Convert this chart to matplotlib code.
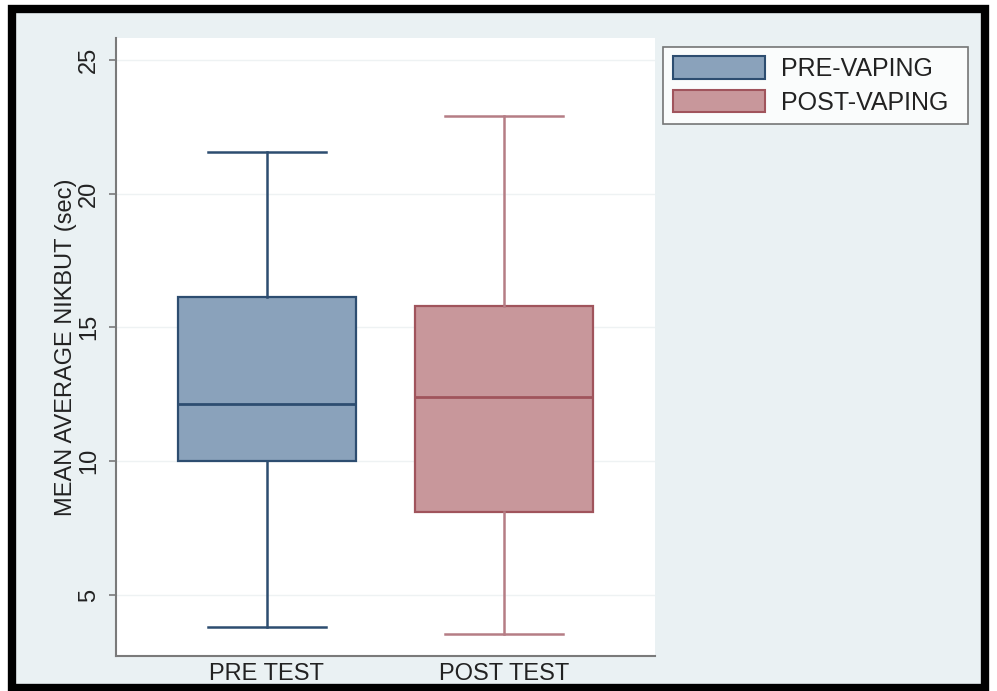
import matplotlib.pyplot as plt
from matplotlib.patches import Patch, Rectangle

plt.rcParams['font.family'] = ['Liberation Sans', 'DejaVu Sans']

groups = ["PRE TEST", "POST TEST"]
series = ["PRE-VAPING", "POST-VAPING"]
whislo = [3.8, 3.55]
q1 = [10.0, 8.1]
med = [12.15, 12.4]
q3 = [16.15, 15.8]
whishi = [21.55, 22.9]

fills = ["#8aa2bb", "#c8979b"]
edges = ["#2d4d70", "#a0545c"]
whisk = ["#2d4d70", "#b57d85"]
bg = "#eaf1f3"
txt = "#222222"

fig = plt.figure(figsize=(9.97, 6.91), dpi=100, facecolor="white")
fig.add_artist(Rectangle((0.0125, 0.0045), 0.975, 0.9825, transform=fig.transFigure,
                         facecolor=bg, edgecolor="black", lw=6, zorder=-1))

ax = fig.add_axes([0.1164, 0.0506, 0.5406, 0.894])
ax.set_facecolor("white")

stats = []
for i in range(len(groups)):
    stats.append(dict(label=groups[i], whislo=whislo[i], q1=q1[i], med=med[i],
                      q3=q3[i], whishi=whishi[i], fliers=[]))

bp = ax.bxp(stats, positions=[1, 2], widths=0.75, capwidths=0.5,
            patch_artist=True, showfliers=False)
for i in range(2):
    bp['boxes'][i].set(facecolor=fills[i], edgecolor=edges[i], lw=1.6)
    bp['medians'][i].set(color=edges[i], lw=2)
    for j in (2 * i, 2 * i + 1):
        bp['whiskers'][j].set(color=whisk[i], lw=1.8)
        bp['caps'][j].set(color=whisk[i], lw=1.8)

ax.set_xlim(0.364, 2.636)
ax.set_ylim(2.72, 25.8)
ax.set_yticks([5, 10, 15, 20, 25])
ax.yaxis.grid(True, color="#eef2f3", lw=1)
ax.set_axisbelow(True)

for s in ("top", "right"):
    ax.spines[s].set_visible(False)
for s in ("left", "bottom"):
    ax.spines[s].set_color("#7a7a7a")
    ax.spines[s].set_linewidth(1.5)

ax.tick_params(axis='y', length=5, width=1.2, color="#7a7a7a", pad=6.5,
               labelsize=17, labelcolor=txt, labelrotation=90)
for lab in ax.get_yticklabels():
    lab.set_va("center")
ax.tick_params(axis='x', length=0, pad=5, labelsize=17, labelcolor=txt)
ax.set_ylabel("MEAN AVERAGE NIKBUT (sec)", fontsize=17, color=txt, labelpad=1)

handles = [Patch(facecolor=fills[i], edgecolor=edges[i], lw=1.5, label=series[i])
           for i in range(2)]
leg = fig.legend(handles=handles, loc="upper left",
                 bbox_to_anchor=(0.665, 0.822, 0.306, 0.11), mode="expand",
                 fontsize=18, frameon=True, fancybox=False, edgecolor="#555555",
                 handlelength=3.7, handleheight=1.0, labelspacing=0.35,
                 handletextpad=0.64, borderpad=0.38, borderaxespad=0)
leg.get_frame().set_linewidth(1.2)
for t in leg.get_texts():
    t.set_color(txt)

fig.savefig("out.png", dpi=100, facecolor=fig.get_facecolor())
